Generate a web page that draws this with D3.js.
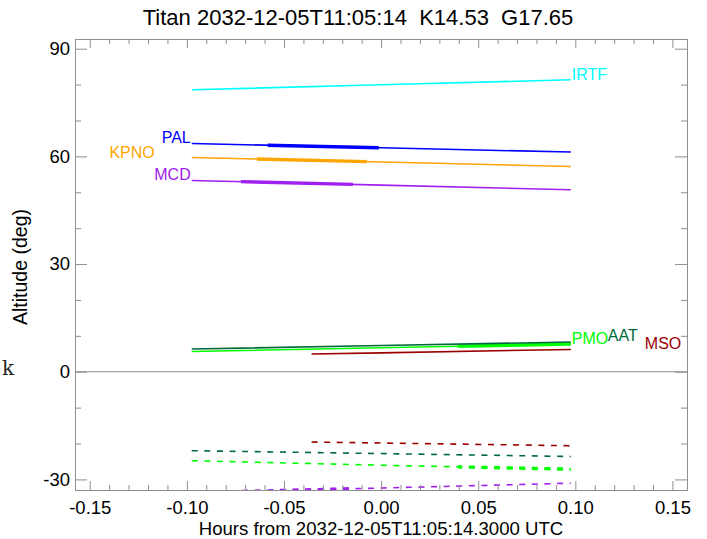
<!DOCTYPE html>
<html>
<head>
<meta charset="utf-8">
<script src="https://cdn.jsdelivr.net/npm/d3@7"></script>
<style>
  html, body { margin: 0; padding: 0; background: #fff; }
  svg { display: block; font-family: "Liberation Sans", Arial, Helvetica, sans-serif; }
</style>
</head>
<body>
<svg id="chart" width="707" height="539"></svg>
<script>
// ---------------- data ----------------
const titleText = "Titan 2032-12-05T11:05:14  K14.53  G17.65";
const xTitle = "Hours from 2032-12-05T11:05:14.3000 UTC";
const yTitle = "Altitude (deg)";

const sites = ["IRTF", "PAL", "KPNO", "MCD", "PMO", "AAT", "MSO"];
const siteColors = ["#00ffff", "#0000ff", "#ffa500", "#a020f0", "#00ff00", "#006a3c", "#9b0000"];

// sample times (hours from reference epoch)
const tFull = [-0.0975, 0.0, 0.0977];
const tMSO  = [-0.0358, 0.0, 0.0977];

// target altitude (deg)
const altIRTF = [78.55, 79.94, 81.34];
const altPAL  = [63.59, 62.40, 61.20];
const altKPNO = [59.69, 58.44, 57.19];
const altMCD  = [53.29, 52.00, 50.70];
const altPMO  = [5.65, 6.69, 7.72];
const altAAT  = [6.32, 7.30, 8.27];
const altMSO  = [4.93, 5.26, 6.21];

// sun altitude (deg), dashed
const sunMCD = [-33.70, -32.40, -31.06];
const sunPMO = [-24.79, -26.05, -27.16];
const sunAAT = [-22.00, -22.80, -23.62];
const sunMSO = [-19.58, -19.86, -20.61];

// observable windows (hours) drawn thick
const windowSites = ["PAL", "KPNO", "MCD", "PMO"];
const windowStart = [-0.0584, -0.0640, -0.0722, 0.0395];
const windowEnd   = [-0.0012, -0.0074, -0.0145, 0.0977];

const xMajorTicks = [-0.15, -0.10, -0.05, 0.00, 0.05, 0.10, 0.15];
const xMinorTicks = [-0.14,-0.13,-0.12,-0.11,-0.09,-0.08,-0.07,-0.06,-0.04,-0.03,-0.02,-0.01,
                     0.01,0.02,0.03,0.04,0.06,0.07,0.08,0.09,0.11,0.12,0.13,0.14];
const yMajorTicks = [-30, 0, 30, 60, 90];
const yMinorTicks = [-20, -10, 10, 20, 40, 50, 70, 80];
const xDomain = [-0.1576, 0.1575];
const yDomain = [-32.95, 92.7];

// ---------------- layout ----------------
const M = { left: 75, right: 687, top: 39, bottom: 490 };
const svg = d3.select("#chart");
const x = d3.scaleLinear().domain(xDomain).range([M.left, M.right]);
const y = d3.scaleLinear().domain(yDomain).range([M.bottom, M.top]);
const axisColor = "#8f8f8f";

const defs = svg.append("defs");
defs.append("clipPath").attr("id", "plotClip").append("rect")
  .attr("x", M.left).attr("y", M.top).attr("width", M.right - M.left).attr("height", M.bottom - M.top);
windowSites.forEach((s, i) => {
  defs.append("clipPath").attr("id", "win" + s).append("rect")
    .attr("x", x(windowStart[i])).attr("y", 0)
    .attr("width", x(windowEnd[i]) - x(windowStart[i])).attr("height", 539);
});

const series = [
  { site: "IRTF", t: tFull, alt: altIRTF },
  { site: "PAL",  t: tFull, alt: altPAL },
  { site: "KPNO", t: tFull, alt: altKPNO },
  { site: "MCD",  t: tFull, alt: altMCD },
  { site: "PMO",  t: tFull, alt: altPMO },
  { site: "AAT",  t: tFull, alt: altAAT },
  { site: "MSO",  t: tMSO,  alt: altMSO }
];
const sunSeries = [
  { site: "MSO", t: tMSO,  alt: sunMSO },
  { site: "AAT", t: tFull, alt: sunAAT },
  { site: "PMO", t: tFull, alt: sunPMO },
  { site: "MCD", t: tFull, alt: sunMCD }
];
const colorOf = s => siteColors[sites.indexOf(s)];
const line = d3.line().x(d => x(d[0])).y(d => y(d[1]));
const pts = s => s.t.map((t, i) => [t, s.alt[i]]);

// zero line
svg.append("line").attr("x1", M.left).attr("x2", M.right)
  .attr("y1", y(0)).attr("y2", y(0)).attr("stroke", axisColor).attr("stroke-width", 1);

const plot = svg.append("g").attr("clip-path", "url(#plotClip)");

// target altitude lines
series.forEach(s => {
  plot.append("path").attr("d", line(pts(s))).attr("fill", "none")
    .attr("stroke", colorOf(s.site)).attr("stroke-width", 1.6);
  if (windowSites.includes(s.site)) {
    plot.append("path").attr("d", line(pts(s))).attr("fill", "none")
      .attr("clip-path", "url(#win" + s.site + ")")
      .attr("stroke", colorOf(s.site)).attr("stroke-width", 3.4);
  }
});
// sun altitude dashed
sunSeries.forEach(s => {
  plot.append("path").attr("d", line(pts(s))).attr("fill", "none")
    .attr("stroke", colorOf(s.site)).attr("stroke-width", 1.6)
    .attr("stroke-dasharray", "6,6.6");
  if (windowSites.includes(s.site)) {
    plot.append("path").attr("d", line(pts(s))).attr("fill", "none")
      .attr("clip-path", "url(#win" + s.site + ")")
      .attr("stroke", colorOf(s.site)).attr("stroke-width", 3.4)
      .attr("stroke-dasharray", "6,6.6");
  }
});

// site labels: anchor side and pixel offsets
const labelSide = { IRTF: "end", PAL: "start", KPNO: "start", MCD: "start", PMO: "end", AAT: "end", MSO: "end" };
const labelDx   = { IRTF: 1, PAL: -1, KPNO: -37, MCD: -1, PMO: 1, AAT: 37, MSO: 74 };
const labelDy   = { IRTF: 0, PAL: 0, KPNO: 0.6, MCD: 0, PMO: 0, AAT: -1, MSO: 0 };
series.forEach(s => {
  const side = labelSide[s.site];
  const i = side === "start" ? 0 : s.t.length - 1;
  svg.append("text")
    .attr("x", x(s.t[i]) + labelDx[s.site])
    .attr("y", y(s.alt[i]) + labelDy[s.site])
    .attr("text-anchor", side === "start" ? "end" : "start")
    .attr("fill", colorOf(s.site))
    .attr("font-size", 16)
    .text(s.site);
});

// ---------------- axes ----------------
function styleAxis(g) {
  g.select(".domain").attr("stroke", axisColor);
  g.selectAll(".tick line").attr("stroke", axisColor);
  g.selectAll("text").attr("fill", "#000").attr("font-size", 18.5)
    .attr("font-family", "Liberation Sans, Arial, sans-serif");
}
const fmtX = d3.format(".2f");
const fmtXm = d => (d < 0 ? "-" : "") + fmtX(Math.abs(d));
const fmtY = d => String(d);

svg.append("g").attr("transform", `translate(0,${M.bottom})`)
  .call(d3.axisBottom(x).tickValues(xMajorTicks).tickFormat(fmtXm).tickSizeInner(-9).tickSizeOuter(0).tickPadding(10.5))
  .call(styleAxis);
svg.append("g").attr("transform", `translate(0,${M.bottom})`)
  .call(d3.axisBottom(x).tickValues(xMinorTicks).tickFormat("").tickSizeInner(-5).tickSizeOuter(0))
  .call(styleAxis);
svg.append("g").attr("transform", `translate(0,${M.top})`)
  .call(d3.axisTop(x).tickValues(xMajorTicks).tickFormat("").tickSizeInner(-9).tickSizeOuter(0))
  .call(styleAxis);
svg.append("g").attr("transform", `translate(0,${M.top})`)
  .call(d3.axisTop(x).tickValues(xMinorTicks).tickFormat("").tickSizeInner(-5).tickSizeOuter(0))
  .call(styleAxis);

svg.append("g").attr("transform", `translate(${M.left},0)`)
  .call(d3.axisLeft(y).tickValues(yMajorTicks).tickFormat(fmtY).tickSizeInner(-12).tickSizeOuter(0).tickPadding(5))
  .call(styleAxis);
svg.append("g").attr("transform", `translate(${M.left},0)`)
  .call(d3.axisLeft(y).tickValues(yMinorTicks).tickFormat("").tickSizeInner(-6).tickSizeOuter(0))
  .call(styleAxis);
svg.append("g").attr("transform", `translate(${M.right},0)`)
  .call(d3.axisRight(y).tickValues(yMajorTicks).tickFormat("").tickSizeInner(-12).tickSizeOuter(0))
  .call(styleAxis);
svg.append("g").attr("transform", `translate(${M.right},0)`)
  .call(d3.axisRight(y).tickValues(yMinorTicks).tickFormat("").tickSizeInner(-6).tickSizeOuter(0))
  .call(styleAxis);

// ---------------- titles ----------------
svg.append("text").attr("x", 358).attr("y", 25).attr("text-anchor", "middle")
  .attr("font-size", 22).attr("fill", "#000").attr("xml:space", "preserve")
  .style("white-space", "pre").text(titleText);
svg.append("text").attr("x", 381).attr("y", 535).attr("text-anchor", "middle")
  .attr("font-size", 18.6).attr("fill", "#000").text(xTitle);
svg.append("text").attr("transform", "translate(27,267) rotate(-90)").attr("text-anchor", "middle")
  .attr("font-size", 19.5).attr("fill", "#000").text(yTitle);
svg.append("text").attr("x", 2).attr("y", 375).attr("font-family", "DejaVu Serif, serif")
  .attr("font-size", 20).attr("fill", "#222").text("k");
</script>
</body>
</html>
